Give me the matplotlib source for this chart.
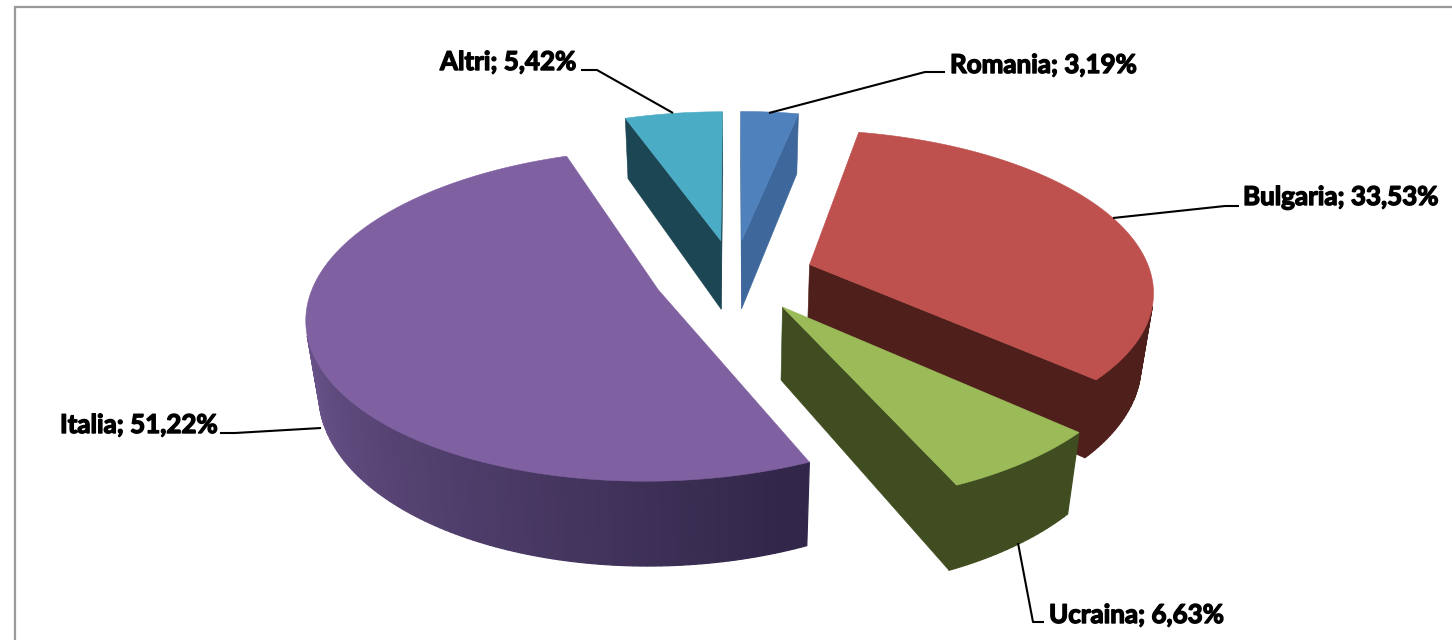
import numpy as np
import matplotlib
matplotlib.use("Agg")
import matplotlib.pyplot as plt
import matplotlib.patheffects as pe
from matplotlib.patches import Polygon

# ---- data
categories = ["Romania", "Bulgaria", "Ucraina", "Italia", "Altri"]
shares = [3.19, 33.53, 6.63, 51.22, 5.42]

# ---- styles
top_colors = ["#4f81bd", "#be504d", "#9bbb59", "#7f60a0", "#4bacc6"]
wall_colors = ["#3e689c", "#4f1f1b", "#404d20", "#6f5790", "#1c4653"]
paint_order = [4, 0, 1, 3, 2]

# ---- projection of the 3D pie onto the page
CX, CY = 734.0, 276.0
FX, FY, FZ = 342.0, 158.0, 71.0
K, M = 0.15, 0.03
EXPLODE = 0.235
DEPTH = 1.0


def project(X, Y, Z):
    wy = 1 + K * Y
    wx = wy + M * Z
    return np.column_stack([CX + FX * X / wx, CY - FY * Y / wy + FZ * Z / wy])


def slice_points(theta0, theta1, explode):
    mid = (theta0 + theta1) / 2
    ox, oy = explode * np.sin(mid), explode * np.cos(mid)
    th = np.linspace(theta0, theta1, max(int(np.degrees(theta1 - theta0)), 2) + 1)
    return ox, oy, th


def area(p):
    x, y = p[:, 0], p[:, 1]
    return 0.5 * np.sum(x * np.roll(y, -1) - np.roll(x, -1) * y)


fig = plt.figure(figsize=(14.52, 6.40), dpi=100, facecolor="white")
ax = fig.add_axes([0, 0, 1, 1])
ax.set_xlim(0, 1452)
ax.set_ylim(640, 0)
ax.axis("off")

# chart frame (open at the bottom and right, as cropped)
ax.plot([14.5, 14.5, 1452], [640, 7, 7], color="#999999", lw=1.6, solid_joinstyle="miter")

fractions = np.array(shares) / np.sum(shares)
edges = np.concatenate([[0], np.cumsum(fractions)]) * 2 * np.pi


def lerp_color(c0, c1, t):
    a, b = np.array(matplotlib.colors.to_rgb(c0)), np.array(matplotlib.colors.to_rgb(c1))
    return tuple(a + (b - a) * t)


for i in paint_order:
    t0, t1 = edges[i], edges[i + 1]
    ox, oy, th = slice_points(t0, t1, EXPLODE)
    xs, ys = ox + np.sin(th), oy + np.cos(th)
    zero = np.zeros_like(xs)
    rim_top = project(xs, ys, zero)
    rim_bot = project(xs, ys, zero + DEPTH)
    apex_top = project(np.array([ox]), np.array([oy]), np.array([0.0]))
    apex_bot = project(np.array([ox]), np.array([oy]), np.array([DEPTH]))

    # rim wall, one facet per step, shaded towards the right for the large slice
    for j in range(len(th) - 1):
        q = np.vstack([rim_top[j], rim_bot[j], rim_bot[j + 1], rim_top[j + 1]])
        if area(q) > 0:
            col = wall_colors[i]
            if categories[i] == "Italia":
                deg = np.degrees(th[j])
                col = lerp_color("#32274a", "#735a94", np.clip((deg - 160) / 110, 0, 1))
            ax.add_patch(Polygon(q, closed=True, fc=col, ec=col, lw=0.9, zorder=2))

    # radial walls, wound the same way as the rim facets
    q_start = np.vstack([rim_bot[0], rim_top[0], apex_top, apex_bot])
    q_end = np.vstack([rim_top[-1], rim_bot[-1], apex_bot, apex_top])
    for q in (q_start, q_end):
        if area(q) > 0:
            ax.add_patch(Polygon(q, closed=True, fc=wall_colors[i], ec=wall_colors[i], lw=0.4, zorder=2))

    top = np.vstack([apex_top, rim_top])
    ax.add_patch(Polygon(top, closed=True, fc=top_colors[i], ec=top_colors[i], lw=0.4, zorder=2))

# ---- labels and leader lines (page layout)
label_pos = {
    "Romania": (950, 65),
    "Bulgaria": (1243, 197),
    "Ucraina": (1049, 615),
    "Italia": (60, 425),
    "Altri": (440, 62),
}
leaders = {
    "Romania": ([769, 925, 945], [113, 72, 72]),
    "Bulgaria": ([1113, 1225, 1239], [218, 206, 206]),
    "Ucraina": ([1018, 1033, 1044], [543, 622, 622]),
    "Italia": ([321, 235, 220], [428, 433, 433]),
    "Altri": ([673, 597, 581], [113, 70, 70]),
}

for cat, val in zip(categories, shares):
    x, y = label_pos[cat]
    txt = f"{cat}; {val:.2f}%".replace(".", ",")
    ax.text(x, y, txt, ha="left", va="center", fontsize=18.7, family="Lato", fontweight="bold",
            color="black", zorder=4,
            path_effects=[pe.withStroke(linewidth=1.0, foreground="black")])
    lx, ly = leaders[cat]
    ax.plot(lx, ly, color="black", lw=1.5, zorder=3, solid_capstyle="butt")

fig.savefig("out.png", dpi=100, facecolor="white")
